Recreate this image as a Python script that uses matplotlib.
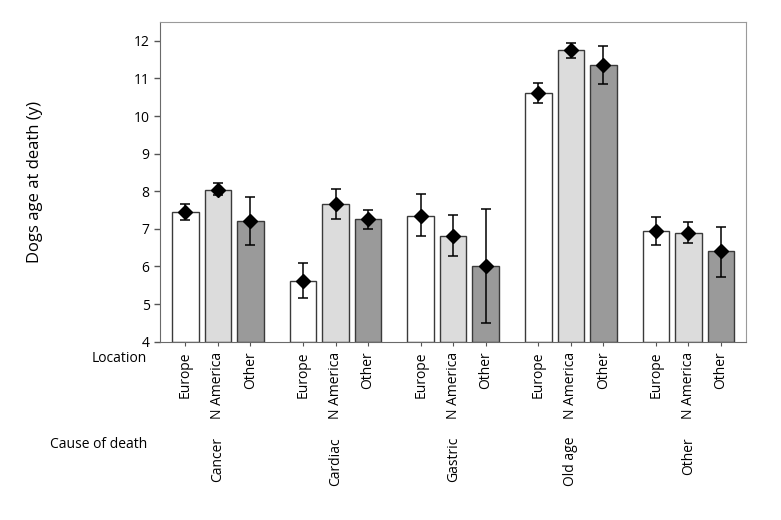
import numpy as np
import matplotlib.pyplot as plt
from matplotlib.transforms import blended_transform_factory

plt.rcParams["font.family"] = ["Open Sans", "DejaVu Sans"]

# -----------------------------
# Data
# -----------------------------
causes = ["Cancer", "Cardiac", "Gastric", "Old age", "Other"]
locations = ["Europe", "N America", "Other"]
loc_colors = ["#ffffff", "#dcdcdc", "#9a9a9a"]

# mean age per cause (rows) and location (cols)
means = np.array([
    [7.46, 8.04, 7.20],
    [5.61, 7.66, 7.25],
    [7.34, 6.82, 6.02],
    [10.62, 11.76, 11.37],
    [6.94, 6.89, 6.40],
])
err_upper = np.array([
    [7.66, 8.21, 7.84],
    [6.10, 8.07, 7.49],
    [7.92, 7.38, 7.52],
    [10.87, 11.94, 11.85],
    [7.32, 7.18, 7.05],
])
err_lower = np.array([
    [7.23, 7.90, 6.57],
    [5.16, 7.26, 7.00],
    [6.80, 6.28, 4.49],
    [10.34, 11.55, 10.86],
    [6.57, 6.63, 5.72],
])

# -----------------------------
# Layout
# -----------------------------
fig = plt.figure(figsize=(7.81, 5.2), dpi=100)
W, H = 781, 520
ax = fig.add_axes([160 / W, 1 - 341.7 / H, (746 - 160) / W, (341.7 - 22) / H])

group_stride = 3.62
bar_w = 0.815
n_loc = len(locations)

xs_all, labels_all = [], []
for g, cause in enumerate(causes):
    xs = g * group_stride + np.arange(n_loc)
    ax.bar(xs, means[g] - 4, bottom=4, width=bar_w, color=loc_colors,
           edgecolor="#3a3a3a", linewidth=1.0, zorder=2)
    ax.errorbar(xs, means[g],
                yerr=[means[g] - err_lower[g], err_upper[g] - means[g]],
                fmt="D", color="black", markersize=7, ecolor="black",
                elinewidth=1.1, capsize=3.3, capthick=1.1, zorder=3)
    xs_all.extend(xs)
    labels_all.extend(locations)

ax.set_xlim(-0.78, 17.25)
ax.set_ylim(4, 12.5)
ax.set_yticks(range(4, 13))
ax.tick_params(axis="y", labelsize=10, length=4, width=1, color="#555555")
ax.set_xticks(xs_all)
ax.set_xticklabels(labels_all, rotation=90, fontsize=10)
ax.tick_params(axis="x", length=3, width=0.8, color="#555555", pad=4)

for side in ["top", "right"]:
    ax.spines[side].set_color("#9a9a9a")
for side in ["left", "bottom"]:
    ax.spines[side].set_color("#6a6a6a")

ax.set_ylabel("Dogs age at death (y)", fontsize=12)
ax.yaxis.set_label_coords(-(160 - 43) / (746 - 160), 0.5)

# second-level category labels
trans = blended_transform_factory(ax.transData, fig.transFigure)
for g, cause in enumerate(causes):
    ax.text(g * group_stride + 1, 1 - 437 / H, cause, transform=trans,
            rotation=90, ha="center", va="top", fontsize=10)

fig.text(147 / W, 1 - 358 / H, "Location", ha="right", va="center", fontsize=10)
fig.text(147 / W, 1 - 444 / H, "Cause of death", ha="right", va="center", fontsize=10)

plt.savefig("out.png", dpi=100)
